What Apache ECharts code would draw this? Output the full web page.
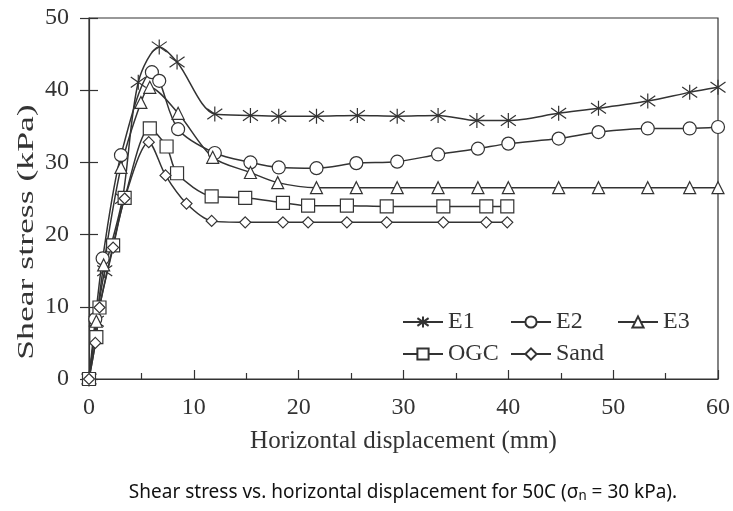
<!DOCTYPE html>
<html>
<head>
<meta charset="utf-8">
<script src="https://cdn.jsdelivr.net/npm/echarts@6/dist/echarts.min.js"></script>
<style>
  html, body { margin: 0; padding: 0; background: #fff; }
  #chart { width: 733px; height: 511px; }
</style>
</head>
<body>
<div id="chart"></div>
<script>
// displacement (mm) / shear stress (kPa)
const e1X = [0, 0.7, 1.5, 3.2, 4.7, 6.7, 8.4, 12.0, 15.4, 18.1, 21.7, 25.6, 29.4, 33.3, 37.0, 40.0, 44.8, 48.6, 53.3, 57.3, 60]
const e1Y = [0, 8, 15, 25, 41.1, 46.0, 43.9, 36.7, 36.5, 36.4, 36.4, 36.5, 36.4, 36.5, 35.8, 35.8, 36.8, 37.5, 38.5, 39.7, 40.4]

const e2X = [0, 0.6, 1.3, 3.05, 6.0, 6.7, 8.5, 12.0, 15.4, 18.1, 21.7, 25.5, 29.4, 33.3, 37.1, 40.0, 44.8, 48.6, 53.3, 57.3, 60]
const e2Y = [0, 8.3, 16.7, 31.0, 42.5, 41.3, 34.6, 31.3, 30.0, 29.3, 29.2, 29.9, 30.1, 31.1, 31.9, 32.6, 33.3, 34.2, 34.7, 34.7, 34.9]

const e3X = [0, 0.7, 1.4, 3.05, 4.95, 5.8, 8.5, 11.8, 15.4, 18.0, 21.7, 25.5, 29.4, 33.3, 37.1, 40.0, 44.8, 48.6, 53.3, 57.3, 60]
const e3Y = [0, 8, 15.8, 29.3, 38.3, 40.4, 36.8, 30.7, 28.6, 27.2, 26.5, 26.5, 26.5, 26.5, 26.5, 26.5, 26.5, 26.5, 26.5, 26.5, 26.5]

const ogcX = [0, 0.7, 1.0, 2.3, 3.4, 5.8, 7.4, 8.4, 11.7, 14.9, 18.5, 20.9, 24.6, 28.4, 33.8, 37.9, 39.9]
const ogcY = [0, 5.8, 9.9, 18.5, 25.1, 34.7, 32.2, 28.5, 25.3, 25.1, 24.4, 24.0, 24.0, 23.9, 23.9, 23.9, 23.9]

const sandX = [0, 0.6, 1.0, 2.3, 3.4, 5.7, 7.3, 9.3, 11.7, 14.9, 18.5, 20.9, 24.6, 28.4, 33.8, 37.9, 39.9]
const sandY = [0, 5.0, 9.9, 18.2, 25.0, 32.8, 28.2, 24.3, 21.9, 21.7, 21.7, 21.7, 21.7, 21.7, 21.7, 21.7, 21.7]

const xTicks = [0, 10, 20, 30, 40, 50, 60]
const yTicks = [0, 10, 20, 30, 40, 50]

const ink = '#333'
const serif = '"Liberation Serif", "DejaVu Serif", serif'
const asterisk = 'path://M0,-10L0,10M-8,-7L8,7M-8,7L8,-7'

const pairs = (xs, ys) => xs.map((x, i) => [x, ys[i]])

function lineSeries(name, xs, ys, symbol, size) {
  return {
    name,
    type: 'line',
    data: pairs(xs, ys),
    smooth: 0.3,
    symbol,
    symbolSize: size,
    showAllSymbol: true,
    lineStyle: { color: ink, width: 1.5 },
    itemStyle: { color: '#fff', borderColor: ink, borderWidth: 1.2 },
    emphasis: { disabled: true },
    z: 3,
  }
}

const legendBase = {
  orient: 'vertical',
  itemWidth: 40,
  itemHeight: 14,
  itemGap: 8,
  textStyle: { fontFamily: serif, fontSize: 24, color: ink },
  selectedMode: false,
}

const chart = echarts.init(document.getElementById('chart'), null, { renderer: 'canvas' })

chart.setOption({
  animation: false,
  backgroundColor: '#fff',
  grid: {
    left: 89, right: 15, top: 18, bottom: 132,
    show: true, borderColor: ink, borderWidth: 1.2,
  },
  legend: [
    { ...legendBase, data: ['E1', 'OGC'], left: 397, top: 305 },
    { ...legendBase, data: ['E2', 'Sand'], left: 505, top: 305 },
    { ...legendBase, data: ['E3'], left: 612, top: 305 },
  ],
  xAxis: {
    type: 'value',
    min: xTicks[0],
    max: xTicks[xTicks.length - 1],
    interval: 10,
    name: 'Horizontal displacement (mm)',
    nameLocation: 'middle',
    nameGap: 50,
    nameTextStyle: { fontFamily: serif, fontSize: 25, color: ink },
    axisLine: { lineStyle: { color: ink, width: 1.2 } },
    axisTick: { inside: true, length: 9, lineStyle: { color: ink, width: 1.2 } },
    minorTick: { show: true, splitNumber: 2, length: 6, lineStyle: { color: ink, width: 1.2 } },
    axisLabel: { fontFamily: serif, fontSize: 24, color: ink, margin: 17 },
    splitLine: { show: false },
  },
  yAxis: [
    {
      type: 'value',
      min: yTicks[0],
      max: yTicks[yTicks.length - 1],
      interval: 10,
      axisLine: { lineStyle: { color: ink, width: 1.2 } },
      axisTick: { inside: true, length: 9, lineStyle: { color: ink, width: 1.2 } },
      axisLabel: { fontFamily: serif, fontSize: 24, color: ink, margin: 20 },
      splitLine: { show: false },
    },
    {
      // outer half of the crossing ticks
      type: 'value',
      position: 'left',
      min: yTicks[0],
      max: yTicks[yTicks.length - 1],
      interval: 10,
      axisLine: { show: false },
      axisTick: { inside: false, length: 9, lineStyle: { color: ink, width: 1.2 } },
      axisLabel: { show: false },
      splitLine: { show: false },
    },
  ],
  graphic: [
    {
      type: 'text',
      x: 27, y: 232,
      rotation: Math.PI / 2,
      scaleX: 1.55,
      style: {
        text: 'Shear stress (kPa)',
        font: '23px "Liberation Serif", serif',
        fill: ink,
        align: 'center',
        verticalAlign: 'middle',
      },
    },
    {
      type: 'text',
      x: 403, y: 492,
      scaleX: 0.95,
      style: {
        text: 'Shear stress vs. horizontal displacement for 50C ({s|σ}{sub|n} = 30 kPa).',
        font: '20px "Noto Sans", sans-serif',
        fill: '#111',
        align: 'center',
        verticalAlign: 'middle',
        rich: {
          s: { font: '20px "Noto Sans", sans-serif', fill: '#111' },
          sub: { font: '14px "Noto Sans", sans-serif', fill: '#111', padding: [9, 0, 0, 0] },
        },
      },
    },
  ],
  series: [
    lineSeries('E1', e1X, e1Y, asterisk, 15),
    lineSeries('E2', e2X, e2Y, 'circle', 13),
    lineSeries('E3', e3X, e3Y, 'triangle', 12),
    lineSeries('OGC', ogcX, ogcY, 'rect', 13),
    lineSeries('Sand', sandX, sandY, 'diamond', 11),
  ],
})
</script>
</body>
</html>
